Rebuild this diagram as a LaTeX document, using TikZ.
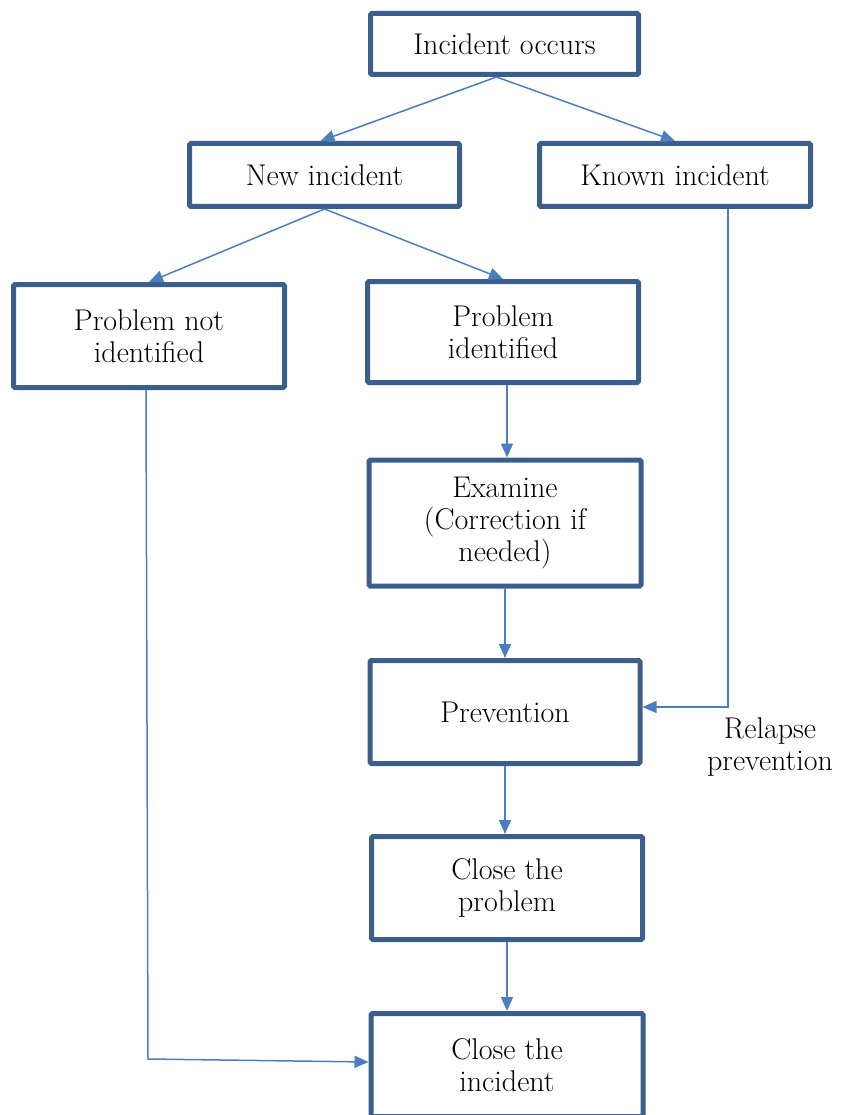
\documentclass[tikz,border=0pt]{standalone}
\usetikzlibrary{arrows.meta}
\definecolor{boxline}{HTML}{3B5E8C}
\definecolor{linkline}{HTML}{4A7EBF}
\begin{document}
\begin{tikzpicture}[x=1pt,y=-1pt,
  box/.style={draw=boxline, line width=5pt, rounded corners=1.5pt, fill=white,
    minimum width=#1, align=center, inner sep=0pt,
    font=\fontsize{30}{32}\selectfont},
  link/.style={draw=linkline, line width=1.5pt,
    -{Triangle[length=14pt,width=12pt]}},
  lbl/.style={align=center, font=\fontsize{30}{32}\selectfont}]
\useasboundingbox (0,0) rectangle (843,1115);

% boxes
\node[box=268pt, minimum height=61pt]  (occ)   at (504.5,44)  {Incident occurs};
\node[box=270pt, minimum height=63pt]  (new)   at (324.5,175) {New incident};
\node[box=271pt, minimum height=63pt]  (known) at (675,175)   {Known incident};
\node[box=271pt, minimum height=103pt] (pni)   at (149,336)   {Problem not\\identified};
\node[box=271pt, minimum height=101pt] (pid)   at (503,332)   {Problem\\identified};
\node[box=272pt, minimum height=126pt] (exa)   at (505,523)   {Examine\\(Correction if\\needed)};
\node[box=270pt, minimum height=103pt] (prev)  at (505,712)   {Prevention};
\node[box=271pt, minimum height=103pt] (clp)   at (507,888)   {Close the\\problem};
\node[box=272pt, minimum height=103pt] (cli)   at (507,1065)  {Close the\\incident};

\node[lbl] (rel) at (770,747) {Relapse\\prevention};

% connectors
\draw[link] ([xshift=-8pt]occ.south) -- ([xshift=-4pt]new.north);
\draw[link] ([xshift=-8pt]occ.south) -- (known.north);
\draw[link] (new.south) -- (pni.north);
\draw[link] (new.south) -- (pid.north);
\draw[link] ([xshift=4pt]pid.south) -- ([xshift=4pt]pid.south |- exa.north);
\draw[link] (exa.south) -- (exa.south |- prev.north);
\draw[link] (prev.south) -- (prev.south |- clp.north);
\draw[link] (clp.south) -- (clp.south |- cli.north);
\draw[link] ([xshift=53pt]known.south) |- ([yshift=5pt]prev.east);
\coordinate (turn) at (148,1059);
\draw[link] ([xshift=-3pt]pni.south) -- (turn) -- ([yshift=3pt]cli.west);
\end{tikzpicture}
\end{document}
